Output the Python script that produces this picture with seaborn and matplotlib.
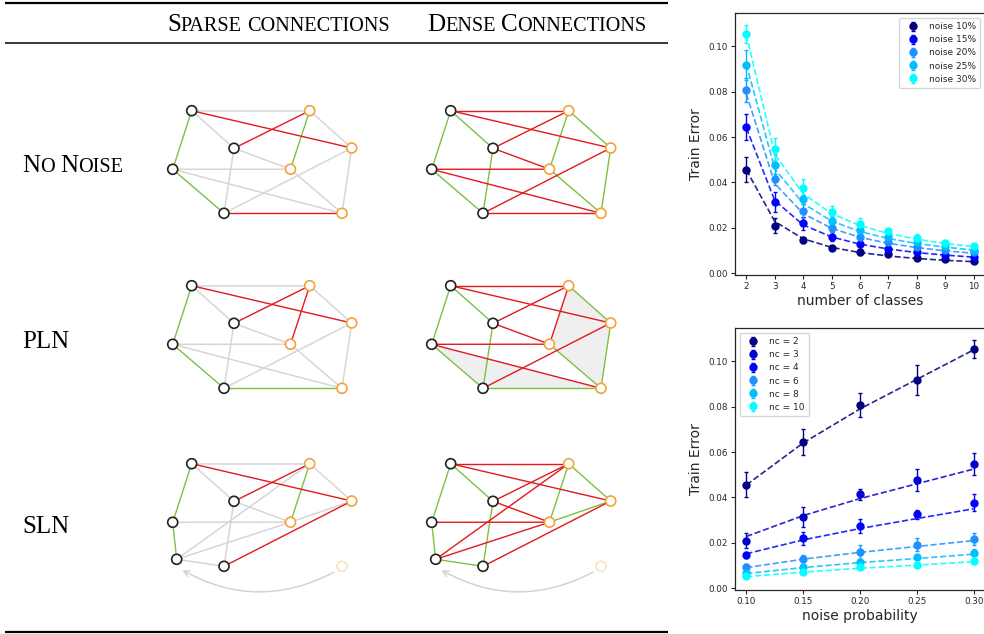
import numpy as np
import pandas as pd
import matplotlib
matplotlib.use("Agg")
import matplotlib.pyplot as plt
import seaborn as sns
from matplotlib.patches import Circle, Polygon, FancyArrowPatch

# ------------------------------------------------------------------ data
n_classes = [2, 3, 4, 5, 6, 7, 8, 9, 10]
noise_probs = [0.10, 0.15, 0.20, 0.25, 0.30]
noise_labels = ["noise 10%", "noise 15%", "noise 20%", "noise 25%", "noise 30%"]
nc_subset = [2, 3, 4, 6, 8, 10]
nc_labels = ["nc = 2", "nc = 3", "nc = 4", "nc = 6", "nc = 8", "nc = 10"]

# mean train error (rows: noise level, along number of classes)
err_noise10 = [0.0455, 0.0210, 0.0147, 0.0111, 0.0092, 0.0084, 0.0069, 0.0062, 0.0054]
err_noise15 = [0.0645, 0.0314, 0.0220, 0.0160, 0.0130, 0.0108, 0.0092, 0.0079, 0.0073]
err_noise20 = [0.0806, 0.0413, 0.0274, 0.0198, 0.0161, 0.0136, 0.0115, 0.0103, 0.0093]
err_noise25 = [0.0916, 0.0478, 0.0325, 0.0232, 0.0192, 0.0158, 0.0136, 0.0122, 0.0102]
err_noise30 = [0.1053, 0.0546, 0.0377, 0.0271, 0.0216, 0.0186, 0.0157, 0.0135, 0.0120]
# standard deviations (error bars)
std_noise10 = [0.0055, 0.0033, 0.0013, 0.0007, 0.0013, 0.0007, 0.0008, 0.0006, 0.0006]
std_noise15 = [0.0057, 0.0044, 0.0028, 0.0020, 0.0016, 0.0012, 0.0010, 0.0008, 0.0007]
std_noise20 = [0.0053, 0.0024, 0.0030, 0.0015, 0.0030, 0.0012, 0.0012, 0.0009, 0.0009]
std_noise25 = [0.0066, 0.0049, 0.0020, 0.0020, 0.0028, 0.0013, 0.0012, 0.0010, 0.0008]
std_noise30 = [0.0040, 0.0049, 0.0038, 0.0024, 0.0026, 0.0014, 0.0016, 0.0010, 0.0010]
# dashed fitted curves
fit_noise10 = [0.0455, 0.0228, 0.0152, 0.0114, 0.0091, 0.0076, 0.0065, 0.0057, 0.0051]
fit_noise15 = [0.0640, 0.0320, 0.0213, 0.0160, 0.0128, 0.0107, 0.0091, 0.0080, 0.0071]
fit_noise20 = [0.0790, 0.0395, 0.0263, 0.0198, 0.0158, 0.0132, 0.0113, 0.0099, 0.0088]
fit_noise25 = [0.0920, 0.0460, 0.0307, 0.0230, 0.0184, 0.0153, 0.0131, 0.0115, 0.0102]
fit_noise30 = [0.1050, 0.0525, 0.0350, 0.0263, 0.0210, 0.0175, 0.0150, 0.0131, 0.0117]

err_rows = [err_noise10, err_noise15, err_noise20, err_noise25, err_noise30]
std_rows = [std_noise10, std_noise15, std_noise20, std_noise25, std_noise30]
fit_rows = [fit_noise10, fit_noise15, fit_noise20, fit_noise25, fit_noise30]

rows = []
for p, lab, e, s, f in zip(noise_probs, noise_labels, err_rows, std_rows, fit_rows):
    for c, ev, sv, fv in zip(n_classes, e, s, f):
        rows.append(dict(noise=p, noise_label=lab, nc=c, err=ev, std=sv, fit=fv))
df = pd.DataFrame(rows)

# ---------------------------------------------------------- graph diagram data
node_names = ["A", "B", "C", "D", "E", "F", "G", "H", "I"]
node_x = [191.7, 234.0, 172.7, 224.0, 309.7, 351.7, 290.5, 342.0, 176.7]
node_y = [110.7, 148.3, 169.3, 213.3, 110.7, 148.0, 169.2, 213.3, 206.3]
node_side = ["L", "L", "L", "L", "R", "R", "R", "R", "L"]
col_offsets = [0, 259]
row_offsets = [0, 175, 353]

panels = {
    (0, 0): dict(green=["AC", "CD", "GE"], red=["AF", "BE", "DH"],
                 gray=["AE", "AB", "BG", "BD", "CG", "CH", "DF", "EF", "FH", "GH"],
                 nodes="ABCDEFGH", faded="", shade=[], arrow=False),
    (0, 1): dict(red=["AE", "AF", "BE", "BG", "CG", "CH", "DF", "DH"],
                 green=["AC", "AB", "BD", "CD", "EG", "EF", "FH", "GH"], gray=[],
                 nodes="ABCDEFGH", faded="", shade=[], arrow=False),
    (1, 0): dict(green=["AC", "CD", "DH"], red=["AF", "BE", "GE"],
                 gray=["AE", "AB", "BG", "BD", "CG", "CH", "DF", "EF", "FH", "GH"],
                 nodes="ABCDEFGH", faded="", shade=[], arrow=False),
    (1, 1): dict(red=["AE", "AF", "BE", "BG", "CG", "CH", "DF", "EG"],
                 green=["AC", "AB", "BD", "CD", "DH", "EF", "FH", "GH"], gray=[],
                 nodes="ABCDEFGH", faded="", shade=["CDH", "EFHG"], arrow=False),
    (2, 0): dict(green=["AC", "CI", "EG"], red=["AF", "BE", "DF"],
                 gray=["AE", "AB", "BG", "BD", "CG", "IE", "IG", "ID", "GF", "EF"],
                 nodes="ABCDEFGI", faded="H", shade=[], arrow=True),
    (2, 1): dict(red=["AE", "AF", "BE", "BG", "CG", "IE", "IG", "DF"],
                 green=["AC", "AB", "BD", "CI", "ID", "EG", "EF", "GF"], gray=[],
                 nodes="ABCDEFGI", faded="H", shade=[], arrow=True),
}

# ------------------------------------------------------------------ figure
sns.set_style("ticks", {"axes.edgecolor": ".15"})
plt.rcParams.update({
    "xtick.major.size": 3, "ytick.major.size": 3,
    "xtick.major.width": 0.8, "ytick.major.width": 0.8,
    "axes.linewidth": 0.9,
})
plt.rcParams["font.family"] = ["DejaVu Sans"]

W, H = 984, 634
fig = plt.figure(figsize=(W / 100, H / 100), dpi=100)

# ---- left: table with graphs (pixel coordinates)
ax0 = fig.add_axes([0, 0, 1, 1])
ax0.set_xlim(0, W)
ax0.set_ylim(H, 0)
ax0.axis("off")
ax0.patch.set_visible(False)

RED, GREEN, GRAY = "#e3191c", "#7cc142", "#d6d6d6"
BLACK_NODE, ORANGE_NODE, FADED_NODE = "#222222", "#f5a23a", "#fde2bf"

rule_x = (5, 668)
ax0.plot(rule_x, (3, 3), color="black", lw=1.6, solid_capstyle="butt")
ax0.plot(rule_x, (43, 43), color="black", lw=1.1, solid_capstyle="butt")
ax0.plot(rule_x, (632, 632), color="black", lw=1.6, solid_capstyle="butt")

pos0 = {n: (x, y) for n, x, y in zip(node_names, node_x, node_y)}
side = dict(zip(node_names, node_side))

for (r, c), spec in panels.items():
    dx, dy = col_offsets[c], row_offsets[r]
    P = {n: (x + dx, y + dy) for n, (x, y) in pos0.items()}
    for poly in spec["shade"]:
        ax0.add_patch(Polygon([P[n] for n in poly], closed=True, facecolor="#efefef",
                              edgecolor="none", zorder=0.5))
    for key, colr in (("gray", GRAY), ("green", GREEN), ("red", RED)):
        for e in spec[key]:
            (x1, y1), (x2, y2) = P[e[0]], P[e[1]]
            ax0.plot([x1, x2], [y1, y2], color=colr, lw=1.0 if key != "gray" else 1.1,
                     zorder=1 if key == "gray" else 2, solid_capstyle="butt")
    for n in spec["nodes"]:
        ec = BLACK_NODE if side[n] == "L" else ORANGE_NODE
        ax0.add_patch(Circle(P[n], 5.0, facecolor="white", edgecolor=ec, lw=1.2, zorder=3))
    for n in spec["faded"]:
        ax0.add_patch(Circle(P[n], 5.0, facecolor="white", edgecolor=FADED_NODE, lw=1.2, zorder=3))
    if spec["arrow"]:
        hx, hy = P["H"]
        ix, iy = P["I"]
        arr = FancyArrowPatch((hx - 5.5, hy + 4.5), (ix + 3.5, iy + 9.5),
                              connectionstyle="arc3,rad=-0.28",
                              arrowstyle="->,head_length=4,head_width=2.2",
                              color="#d3d3d3", lw=1.1, zorder=1)
        ax0.add_patch(arr)

# small-caps text helper
renderer = fig.canvas.get_renderer()
SERIF = "Liberation Serif"
BIG, SMALL = 18, 14.6


def small_caps(x, y, pieces):
    for txt, size in pieces:
        if txt == " ":
            x += 0.25 * SMALL * 100 / 72
            continue
        t = ax0.text(x, y, txt, fontsize=size, family=SERIF, va="baseline", ha="left",
                     color="black")
        bb = t.get_window_extent(renderer)
        x += bb.width


small_caps(167, 31, [("S", BIG), ("PARSE", SMALL), (" ", 0), ("CONNECTIONS", SMALL)])
small_caps(427, 31, [("D", BIG), ("ENSE", SMALL), (" ", 0), ("C", BIG), ("ONNECTIONS", SMALL)])
small_caps(22, 171.5, [("N", BIG), ("O", SMALL), (" ", 0), ("N", BIG), ("OISE", SMALL)])
small_caps(22, 348.5, [("PLN", BIG)])
small_caps(22, 533, [("SLN", BIG)])

# ---- right: plots
top_colors = ["navy", "blue", "dodgerblue", "deepskyblue", "cyan"]
bot_colors = ["navy", "mediumblue", "blue", "dodgerblue", "deepskyblue", "cyan"]

ax1 = fig.add_axes([735 / W, 1 - 275.3 / H, 250 / W, 262 / H])
ax2 = fig.add_axes([735 / W, 1 - 590.3 / H, 250 / W, 262 / H])

sns.lineplot(data=df, x="nc", y="fit", hue="noise_label", palette=top_colors,
             ax=ax1, linestyle="--", lw=1.2, alpha=0.85, legend=False)
for lab, colr in zip(noise_labels, top_colors):
    d = df[df.noise_label == lab]
    ax1.errorbar(d.nc, d.err, yerr=d["std"], fmt="o", color=colr, ms=5,
                 capsize=1.6, elinewidth=1.0, capthick=1.0, label=lab)

dfb = df[df.nc.isin(nc_subset)].copy()
dfb["nc_label"] = dfb.nc.map(dict(zip(nc_subset, nc_labels)))
sns.lineplot(data=dfb, x="noise", y="fit", hue="nc_label", hue_order=nc_labels,
             palette=bot_colors, ax=ax2, linestyle="--", lw=1.2, alpha=0.85, legend=False)
for lab, ncv, colr in zip(nc_labels, nc_subset, bot_colors):
    d = dfb[dfb.nc == ncv]
    ax2.errorbar(d.noise, d.err, yerr=d["std"], fmt="o", color=colr, ms=5,
                 capsize=1.6, elinewidth=1.0, capthick=1.0, label=lab)

for ax in (ax1, ax2):
    ax.tick_params(labelsize=6.3, pad=2)
    ax.set_ylabel("Train Error", fontsize=10)
    ax.set_ylim(-0.0009, 0.1145)
    ax.set_yticks([0.0, 0.02, 0.04, 0.06, 0.08, 0.10])
    ax.set_yticklabels(["0.00", "0.02", "0.04", "0.06", "0.08", "0.10"])

ax1.set_xlim(1.6, 10.4)
ax1.set_xticks(n_classes)
ax1.set_xlabel("number of classes", fontsize=10, labelpad=2)
ax2.set_xlim(0.09, 0.31)
ax2.set_xticks(noise_probs)
ax2.set_xticklabels(["0.10", "0.15", "0.20", "0.25", "0.30"])
ax2.set_xlabel("noise probability", fontsize=10, labelpad=2)

ax1.legend(loc="upper right", fontsize=6.5, handlelength=2.0, borderpad=0.5,
           labelspacing=0.45, framealpha=0.8, edgecolor="0.8")
ax2.legend(loc="upper left", fontsize=6.5, handlelength=2.0, borderpad=0.5,
           labelspacing=0.45, framealpha=0.8, edgecolor="0.8")

fig.savefig("out.png", dpi=100)
